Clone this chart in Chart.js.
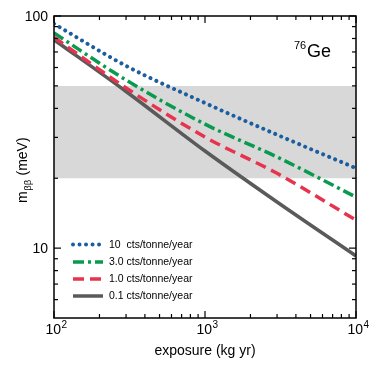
<!DOCTYPE html>
<html>
<head>
<meta charset="utf-8">
<script src="https://cdn.jsdelivr.net/npm/chart.js@4.4.0/dist/chart.umd.min.js"></script>
<style>
  html, body { margin: 0; padding: 0; background: #fff; }
  #wrap { width: 374px; height: 374px; }
</style>
</head>
<body>
<div id="wrap"><canvas id="chart" width="374" height="374"></canvas></div>
<script>
/* ================= DATA ================= */

const exposure = [100, 300, 1000, 3000, 10000];
const bkg10 = [92.5, 61, 42.2, 30.8, 22.1];
const bkg3 = [84.5, 53, 34.2, 24.7, 16.6];
const bkg1 = [81, 49, 30.1, 21, 13.2];
const bkg01 = [79, 47.3, 26.2, 15.8, 9.25];
const seriesLabels = ["10  cts/tonne/year", "3.0 cts/tonne/year", "1.0 cts/tonne/year", "0.1 cts/tonne/year"];

const bandLimits = [20, 50];
const xRange = [100, 10000];
const yRange = [5, 100];

const xMajorTicks = [100, 1000, 10000];
const xTickExps = ["2", "3", "4"];
const xMinorTicks = [200, 300, 400, 500, 600, 700, 800, 900, 2000, 3000, 4000, 5000, 6000, 7000, 8000, 9000];
const yMajorTicks = [10, 100];
const yTickLabels = ["10", "100"];
const yMinorTicks = [6, 7, 8, 9, 20, 30, 40, 50, 60, 70, 80, 90];

/* ================= HELPERS ================= */

const FONT = "'Liberation Sans', Arial, sans-serif";
const toPoints = (xs, ys) => xs.map((x, i) => ({ x, y: ys[i] }));

const lineSets = [
  { label: seriesLabels[0], data: toPoints(exposure, bkg10), borderColor: "#1b5e9f", borderWidth: 4, borderDash: [0.01, 6.5], borderCapStyle: "round" },
  { label: seriesLabels[1], data: toPoints(exposure, bkg3), borderColor: "#0a9a4f", borderWidth: 3.5, borderDash: [11, 4, 3, 4], borderCapStyle: "butt" },
  { label: seriesLabels[2], data: toPoints(exposure, bkg1), borderColor: "#e8334f", borderWidth: 3.5, borderDash: [11, 6], borderCapStyle: "butt" },
  { label: seriesLabels[3], data: toPoints(exposure, bkg01), borderColor: "#5a5a5a", borderWidth: 3.5, borderDash: [], borderCapStyle: "butt" },
];

lineSets.forEach(ds => {
  ds.pointRadius = 0;
  ds.fill = false;
  ds.cubicInterpolationMode = "monotone";
});

/* band datasets go last so they are drawn underneath */
const bandSets = [
  { label: "band-top", data: toPoints(xRange, [bandLimits[1], bandLimits[1]]), borderWidth: 0, pointRadius: 0, backgroundColor: "#d8d8d8", fill: "+1" },
  { label: "band-bottom", data: toPoints(xRange, [bandLimits[0], bandLimits[0]]), borderWidth: 0, pointRadius: 0, fill: false },
];

/* ================= DECORATION PLUGIN ================= */

const framePlugin = {
  id: "frame",
  afterDraw(chart) {
    const ctx = chart.ctx;
    const area = chart.chartArea;
    const xs = chart.scales.x;
    const ys = chart.scales.y;

    ctx.save();
    ctx.strokeStyle = "#000";
    ctx.fillStyle = "#000";

    /* ticks pointing inward on all four sides */
    ctx.lineWidth = 1.2;
    const tick = (x1, y1, x2, y2) => {
      ctx.beginPath();
      ctx.moveTo(x1, y1);
      ctx.lineTo(x2, y2);
      ctx.stroke();
    };
    xMajorTicks.forEach(v => {
      const px = xs.getPixelForValue(v);
      tick(px, area.bottom, px, area.bottom - 7);
      tick(px, area.top, px, area.top + 7);
    });
    xMinorTicks.forEach(v => {
      const px = xs.getPixelForValue(v);
      tick(px, area.bottom, px, area.bottom - 4);
      tick(px, area.top, px, area.top + 4);
    });
    yMajorTicks.forEach(v => {
      const py = ys.getPixelForValue(v);
      tick(area.left, py, area.left + 7, py);
      tick(area.right, py, area.right - 7, py);
    });
    yMinorTicks.forEach(v => {
      const py = ys.getPixelForValue(v);
      tick(area.left, py, area.left + 4, py);
      tick(area.right, py, area.right - 4, py);
    });

    /* frame */
    ctx.lineWidth = 1.5;
    ctx.strokeRect(area.left, area.top, area.right - area.left, area.bottom - area.top);

    /* y tick labels */
    ctx.font = "14px " + FONT;
    ctx.textAlign = "right";
    ctx.textBaseline = "middle";
    yMajorTicks.forEach((v, i) => {
      ctx.fillText(yTickLabels[i], area.left - 6, ys.getPixelForValue(v) + 1);
    });

    /* x tick labels with superscript exponent */
    ctx.textBaseline = "alphabetic";
    xMajorTicks.forEach((v, i) => {
      const px = xs.getPixelForValue(v);
      ctx.font = "14px " + FONT;
      const wBase = ctx.measureText("10").width;
      ctx.font = "10px " + FONT;
      const wExp = ctx.measureText(xTickExps[i]).width;
      const start = px - (wBase + wExp) / 2 + 2;
      ctx.textAlign = "left";
      ctx.font = "14px " + FONT;
      ctx.fillText("10", start, 334);
      ctx.font = "10px " + FONT;
      ctx.fillText(xTickExps[i], start + wBase + 0.5, 328);
    });

    /* x title */
    ctx.font = "14px " + FONT;
    ctx.textAlign = "center";
    ctx.fillText("exposure (kg yr)", (area.left + area.right) / 2, 355);

    /* y title: m_ββ (meV), rotated */
    ctx.save();
    ctx.translate(27, 203);
    ctx.rotate(-Math.PI / 2);
    ctx.textAlign = "left";
    ctx.font = "14px " + FONT;
    const wm = ctx.measureText("m").width;
    ctx.fillText("m", 0, 0);
    ctx.font = "9.5px " + FONT;
    const wb = ctx.measureText("ββ").width;
    ctx.fillText("ββ", wm + 0.5, 4);
    ctx.font = "14px " + FONT;
    ctx.fillText(" (meV)", wm + wb + 1, 0);
    ctx.restore();

    /* isotope label */
    ctx.textAlign = "left";
    ctx.font = "11px " + FONT;
    ctx.fillText("76", 294, 49);
    ctx.font = "18px " + FONT;
    ctx.fillText("Ge", 307, 57);

    /* legend */
    const legendY = [244.5, 262, 279, 296];
    lineSets.forEach((ds, i) => {
      ctx.save();
      ctx.strokeStyle = ds.borderColor;
      ctx.lineWidth = ds.borderWidth;
      ctx.lineCap = ds.borderCapStyle;
      ctx.setLineDash(ds.borderDash);
      ctx.beginPath();
      ctx.moveTo(73, legendY[i]);
      ctx.lineTo(103, legendY[i]);
      ctx.stroke();
      ctx.restore();
      ctx.font = "10.5px " + FONT;
      ctx.textBaseline = "middle";
      ctx.fillText(ds.label, 109, legendY[i] + 0.5);
    });

    ctx.restore();
  }
};

/* ================= CHART ================= */

new Chart(document.getElementById("chart"), {
  type: "line",
  data: { datasets: [...lineSets, ...bandSets] },
  options: {
    responsive: false,
    animation: false,
    devicePixelRatio: 1,
    layout: { padding: { left: 0, right: 18, top: 16, bottom: 0 } },
    plugins: {
      legend: { display: false },
      tooltip: { enabled: false },
    },
    scales: {
      x: {
        type: "logarithmic",
        min: xRange[0],
        max: xRange[1],
        ticks: { display: false },
        grid: { display: false },
        border: { display: false },
        afterFit: s => { s.height = 56; },
      },
      y: {
        type: "logarithmic",
        min: yRange[0],
        max: yRange[1],
        ticks: { display: false },
        grid: { display: false },
        border: { display: false },
        afterFit: s => { s.width = 54; },
      },
    },
  },
  plugins: [framePlugin],
});
</script>
</body>
</html>
